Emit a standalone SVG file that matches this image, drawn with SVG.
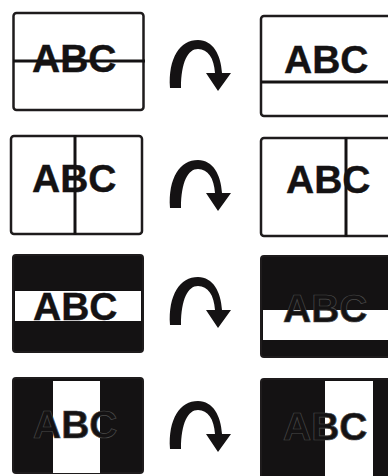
<svg xmlns="http://www.w3.org/2000/svg" xmlns:xlink="http://www.w3.org/1999/xlink" width="388" height="476" viewBox="0 0 388 476">
<style>
.frame{fill:#fff;stroke:#1e1b1c;stroke-width:2.5}
.solid{fill:#141213;stroke:#1e1b1c;stroke-width:2}
.line{stroke:#141213;stroke-width:3}
.lbl{font-family:"Liberation Sans",Arial,sans-serif;font-weight:bold;font-size:39px;fill:#141213;stroke:#141213;stroke-width:0.4}
.olbl{font-family:"Liberation Sans",Arial,sans-serif;font-weight:bold;font-size:39px;fill:#141213;stroke:#4a4a4a;stroke-width:0.7}
.arrow{fill:#141213}
</style>
<defs>
<path id="curl" d="M170 88 C168 58 180 40 198 40 C213 40 221 55 222 73 L231 73 L218 91 L206 73 L215 73 C214 58 208 49 198 49 C188 49 181 62 181 88 Z"/>
</defs>
<rect width="388" height="476" fill="#fff"/>

<g id="r1-left">
<rect class="frame" x="13.5" y="13" width="130" height="97" rx="3"/>
<text class="lbl" x="32" y="72">ABC</text>
<line class="line" x1="13" y1="61" x2="145" y2="61"/>
</g>
<g id="r1-right">
<rect class="frame" x="261" y="16" width="145" height="100" rx="3"/>
<text class="lbl" x="284" y="73">ABC</text>
<line class="line" x1="261" y1="82" x2="400" y2="82"/>
</g>

<g id="r2-left">
<rect class="frame" x="11" y="136" width="131" height="98" rx="3"/>
<text class="lbl" x="32" y="192">ABC</text>
<line class="line" x1="75" y1="135" x2="75" y2="235"/>
</g>
<g id="r2-right">
<rect class="frame" x="261" y="138" width="145" height="98" rx="3"/>
<text class="lbl" x="286" y="193">ABC</text>
<line class="line" x1="346" y1="137" x2="346" y2="237"/>
</g>

<g id="r3-left">
<rect class="solid" x="13" y="255" width="130" height="97" rx="3"/>
<rect fill="#fff" x="15" y="291" width="126" height="30"/>
<text class="lbl" x="33" y="320">ABC</text>
</g>
<g id="r3-right">
<rect class="solid" x="261" y="256" width="145" height="101" rx="3"/>
<rect fill="#fff" x="263" y="310" width="140" height="30"/>
<text class="olbl" x="283" y="322">ABC</text>
</g>

<g id="r4-left">
<rect class="solid" x="13" y="378" width="130" height="95" rx="3"/>
<rect fill="#fff" x="53" y="381" width="47" height="92"/>
<text class="olbl" x="33" y="438">ABC</text>
</g>
<g id="r4-right">
<rect class="solid" x="261" y="379" width="145" height="100" rx="3"/>
<rect fill="#fff" x="325" y="381" width="48" height="95"/>
<text class="olbl" x="283" y="440">ABC</text>
</g>

<g id="connectors">
<use xlink:href="#curl" class="arrow"/>
<use xlink:href="#curl" class="arrow" transform="translate(0,120)"/>
<use xlink:href="#curl" class="arrow" transform="translate(0,237)"/>
<use xlink:href="#curl" class="arrow" transform="translate(0,361)"/>
</g>
</svg>
